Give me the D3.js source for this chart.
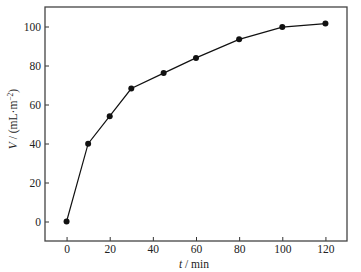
<!DOCTYPE html>
<html><head><meta charset="utf-8">
<script src="https://cdn.jsdelivr.net/npm/d3@7"></script>
<style>body{margin:0;background:#fff}svg{display:block}</style>
</head><body>
<script>
const times = [0, 10, 20, 30, 45, 60, 80, 100, 120];
const volumes = [0, 39.9, 54, 68.2, 76.1, 83.9, 93.4, 99.7, 101.5];
const xTicks = [0, 20, 40, 60, 80, 100, 120];
const yTicks = [0, 20, 40, 60, 80, 100];

const W = 361, H = 272;
const m = {l: 45, t: 7, r: 14, b: 31};
const svg = d3.select("body").append("svg").attr("width", W).attr("height", H);
const x = d3.scaleLinear().domain([-10, 130]).range([m.l, W - m.r]);
const y = d3.scaleLinear().domain([-10, 110]).range([H - m.b, m.t]);
const font = "'Liberation Serif', 'Times New Roman', serif";

const xa = svg.append("g").attr("transform", `translate(0,${H - m.b})`)
  .call(d3.axisBottom(x).tickValues(xTicks).tickSizeInner(-4).tickSizeOuter(0).tickPadding(4));
const ya = svg.append("g").attr("transform", `translate(${m.l},0)`)
  .call(d3.axisLeft(y).tickValues(yTicks).tickSizeInner(-4).tickSizeOuter(0).tickPadding(4));
[xa, ya].forEach(a => {
  a.select(".domain").remove();
  a.selectAll("line").attr("stroke", "#333").attr("stroke-width", 1);
  a.selectAll("text").attr("font-family", font).attr("font-size", 11.5).attr("fill", "#222");
});

svg.append("rect").attr("x", m.l).attr("y", m.t)
  .attr("width", W - m.r - m.l).attr("height", H - m.b - m.t)
  .attr("fill", "none").attr("stroke", "#444").attr("stroke-width", 1.3);

const pts = times.map((t, i) => [t, volumes[i]]);
svg.append("path").datum(pts)
  .attr("d", d3.line().x(d => x(d[0])).y(d => y(d[1])))
  .attr("fill", "none").attr("stroke", "#111").attr("stroke-width", 1.2);
svg.selectAll("circle.pt").data(pts).enter().append("circle")
  .attr("cx", d => x(d[0])).attr("cy", d => y(d[1])).attr("r", 3)
  .attr("fill", "#111");

const xl = svg.append("text").attr("x", 194).attr("y", 268)
  .attr("text-anchor", "middle").attr("font-family", font).attr("font-size", 11.5).attr("fill", "#222");
xl.append("tspan").attr("font-style", "italic").text("t");
xl.append("tspan").text(" / min");

const yl = svg.append("text").attr("transform", `translate(17,119) rotate(-90)`)
  .attr("text-anchor", "middle").attr("font-family", font).attr("font-size", 11.5).attr("fill", "#222");
yl.append("tspan").attr("font-style", "italic").text("V");
yl.append("tspan").text(" / (mL·m");
yl.append("tspan").attr("baseline-shift", "super").attr("font-size", 7.5).text("−2");
yl.append("tspan").text(")");
</script>
</body></html>
